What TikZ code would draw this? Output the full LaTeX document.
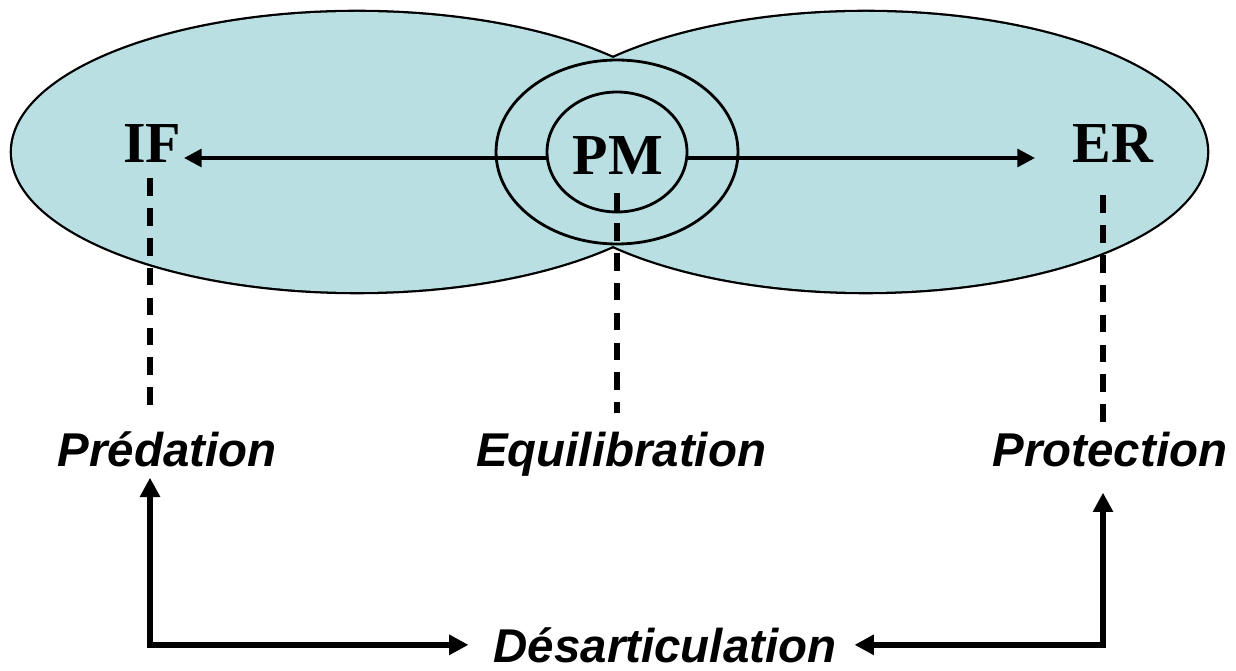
\documentclass[tikz,border=0pt]{standalone}
\usepackage{fontspec}
\setmainfont{Liberation Serif}
\setsansfont{Liberation Sans}
\usetikzlibrary{arrows.meta, shapes.geometric}
\definecolor{lagoon}{RGB}{186,223,227}

\begin{document}
\begin{tikzpicture}[x=0.02cm, y=-0.02cm,
    lobe/.style={draw=black, line width=2.6pt},
    ring/.style={draw, ellipse, line width=1.6pt, inner sep=0pt},
    pole/.style={font=\fontsize{33}{36}\selectfont\bfseries, anchor=base},
    role/.style={font=\sffamily\bfseries\itshape\fontsize{27}{30}\selectfont, anchor=base},
    arr/.style={-{Triangle[length=10pt, width=10pt]}, line width=2.2pt},
    link/.style={{Triangle[length=11pt, width=11pt]}-{Triangle[length=11pt, width=11pt]}, line width=3.2pt},
    tie/.style={line width=3.3pt, dash pattern=on 10pt off 7pt},
]
\useasboundingbox (0,0) rectangle (1236,671);

% two lobes: outlines first, then the fill hides the inner parts
\draw[lobe] (357,152) ellipse [x radius=345, y radius=140];
\draw[lobe] (866,152) ellipse [x radius=341, y radius=140];
\fill[lagoon] (357,152) ellipse [x radius=345, y radius=140];
\fill[lagoon] (866,152) ellipse [x radius=341, y radius=140];

\node[ring, minimum width=4.84cm, minimum height=3.68cm] (halo) at (617,152) {};
\node[ring, minimum width=2.8cm, minimum height=2.4cm] (core) at (617,152) {};

\node[pole] (pm) at (618,175) {PM};
\node[pole] (if) at (152,163) {IF};
\node[pole] (er) at (1113,163) {ER};

\node[role] (pred) at (167,467) {Prédation};
\node[role] (equi) at (621,467) {Equilibration};
\node[role] (prot) at (1110,467) {Protection};
\node[role] (desart) at (665,662) {Désarticulation};

\coordinate (ifTip) at (184,158);
\coordinate (erTip) at (1035,158);
\draw[arr] (core.west |- ifTip) -- (ifTip);
\draw[arr] (core.east |- erTip) -- (erTip);

\draw[tie] (if.south) ++(-2,9) -- ++(0,232);
\draw[tie] (pm.south) ++(-1,12) -- ++(0,220);
\draw[tie] (er.south) ++(-10,26) -- ++(0,233);

\draw[link, shorten <=0.08cm, shorten >=0.38cm] ([xshift=-0.34cm]pred.south) |- (desart.west);
\draw[link, shorten <=0.38cm, shorten >=0.24cm] ([xshift=-0.14cm]prot.south) |- (desart.east);

\end{tikzpicture}
\end{document}
